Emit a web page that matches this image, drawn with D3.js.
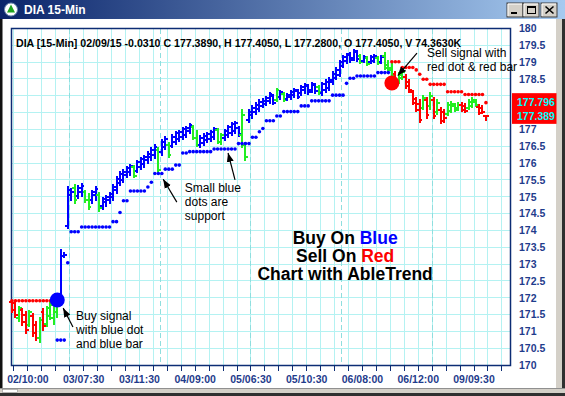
<!DOCTYPE html>
<html><head><meta charset="utf-8">
<script src="https://d3js.org/d3.v7.min.js"></script>
<style>html,body{margin:0;padding:0;background:#fff;overflow:hidden}svg{display:block}</style>
</head><body>
<svg id="c" width="565" height="396"></svg>
<script>
// ---------- DATA ----------
const symbolTitle = "DIA 15-Min";
const headerText = "DIA [15-Min] 02/09/15  -0.0310 C 177.3890, H 177.4050, L 177.2800, O 177.4050, V 74.3630K";
const sessions = [
  {day:"02", start:"09:00", bars:16},
  {day:"03", start:"06:30", bars:26},
  {day:"04", start:"06:30", bars:26},
  {day:"05", start:"06:30", bars:26},
  {day:"06", start:"06:30", bars:26},
  {day:"09", start:"06:30", bars:17}
];
const xTickLabels = ["02/10:00","03/07:30","03/11:30","04/09:00","05/06:30","05/10:30","06/08:00","06/12:00","09/09:30"];
const yTickValues = [170,170.5,171,171.5,172,172.5,173,173.5,174,174.5,175,175.5,176,176.5,177,177.5,178,178.5,179,179.5,180];

const highs = [
171.93,171.90,171.75,171.69,171.58,171.63,171.52,171.28,171.40,171.69,171.75,171.87,171.93,171.96,173.42,173.33,
175.29,175.26,175.35,175.32,175.38,175.20,175.11,175.20,175.29,175.14,174.99,175.05,175.14,175.35,175.59,175.74,175.80,175.91,175.97,175.94,176.09,176.18,176.24,176.33,176.45,176.54,
176.45,176.69,176.78,176.60,176.84,176.95,176.98,177.07,177.10,177.19,177.13,176.98,176.81,176.87,176.92,176.98,177.07,177.04,176.89,177.01,177.13,177.22,177.25,177.10,177.58,176.60,
177.58,177.70,177.79,177.88,177.91,177.99,178.11,178.05,178.23,178.17,178.11,178.08,178.17,178.23,178.20,178.32,178.38,178.35,178.41,178.38,178.32,178.41,178.47,178.53,178.71,178.83,
179.06,179.21,179.27,179.30,179.39,179.36,179.24,179.21,179.18,179.21,179.24,179.18,179.21,179.30,179.06,178.97,178.71,178.68,178.77,178.62,178.47,178.17,177.96,177.88,178.02,177.96,
178.11,177.96,177.88,177.64,177.58,177.79,177.82,177.76,177.79,177.79,177.76,177.88,177.94,177.88,177.73,177.70,177.405];
const lows = [
171.55,171.40,171.28,171.16,170.95,171.13,170.86,170.74,170.68,171.04,171.13,171.34,171.19,171.40,171.78,173.18,
174.07,174.90,174.81,174.96,175.02,174.84,174.61,174.81,174.90,174.55,174.61,174.70,174.81,174.90,175.11,175.32,175.41,175.56,175.62,175.56,175.71,175.80,175.88,176.00,176.09,176.15,
175.74,176.24,176.39,176.18,176.45,176.54,176.63,176.69,176.75,176.87,176.69,176.48,176.45,176.51,176.60,176.63,176.69,176.57,176.54,176.66,176.75,176.81,176.87,176.78,176.45,176.09,
177.22,177.34,177.43,177.52,177.64,177.70,177.76,177.73,177.82,177.88,177.82,177.85,177.88,177.94,177.91,178.02,178.08,178.05,178.11,178.08,178.05,178.02,178.11,178.17,178.35,178.47,
178.56,178.83,178.97,179.00,179.06,179.03,178.95,178.98,178.89,178.95,178.98,178.92,178.95,178.77,178.68,178.56,178.32,178.38,178.47,178.23,178.11,177.73,177.52,177.22,177.58,177.34,
177.58,177.34,177.43,177.19,177.22,177.40,177.49,177.52,177.55,177.52,177.49,177.58,177.64,177.67,177.43,177.46,177.28];
const opens = [
171.87,171.84,171.40,171.63,171.49,171.19,171.46,171.19,170.80,171.58,171.22,171.46,171.40,171.58,171.84,173.24,
174.13,175.05,175.26,175.02,175.14,175.14,174.90,174.90,175.05,175.05,174.72,174.84,174.90,174.99,175.20,175.41,175.50,175.65,175.74,175.88,175.77,175.88,175.97,176.09,176.18,176.24,
176.39,176.33,176.48,176.54,176.51,176.63,176.72,176.78,176.84,176.95,177.07,176.75,176.54,176.60,176.69,176.72,176.78,176.98,176.63,176.75,176.84,176.89,176.95,177.04,176.84,176.54,
177.28,177.43,177.52,177.61,177.70,177.76,177.85,177.99,177.88,177.96,178.05,177.91,177.96,178.02,178.14,178.08,178.17,178.29,178.17,178.32,178.26,178.08,178.17,178.23,178.41,178.53,
178.62,178.89,179.03,179.24,179.12,179.30,179.18,179.03,179.12,179.00,179.03,179.12,179.00,179.18,178.92,178.83,178.65,178.44,178.53,178.56,178.41,178.11,177.91,177.76,177.64,177.88,
177.70,177.88,177.52,177.58,177.52,177.46,177.55,177.70,177.64,177.73,177.70,177.64,177.70,177.82,177.67,177.64,177.405];
const closes = [
171.63,171.49,171.69,171.28,171.04,171.58,170.95,170.80,171.34,171.16,171.69,171.78,171.84,171.90,173.24,173.26,
175.20,175.14,174.90,175.26,175.32,174.90,174.70,175.14,175.23,174.66,174.93,174.99,175.08,175.29,175.53,175.68,175.74,175.85,175.91,175.62,176.03,176.12,176.18,176.27,176.39,176.48,
175.80,176.63,176.72,176.24,176.78,176.89,176.92,177.01,177.04,177.13,176.75,176.54,176.75,176.81,176.87,176.92,177.01,176.63,176.84,176.95,177.07,177.16,177.19,176.87,177.43,176.18,
177.52,177.64,177.73,177.82,177.85,177.94,178.05,177.79,178.17,178.11,177.88,178.02,178.11,178.17,177.96,178.26,178.32,178.11,178.35,178.14,178.11,178.35,178.41,178.47,178.65,178.77,
179.00,179.15,179.21,179.06,179.33,179.09,179.00,179.15,178.95,179.15,179.18,178.98,179.15,178.83,178.77,178.62,178.38,178.62,178.71,178.29,178.17,177.79,177.58,177.28,177.94,177.43,
177.99,177.40,177.79,177.25,177.34,177.73,177.76,177.58,177.73,177.58,177.55,177.82,177.88,177.73,177.49,177.52,177.389];
// trend colour of each bar: r = red (down), g = green (neutral), b = blue (up)
const trend = ("rrgrrgrrgrggggbb" +
  "bbgbbggbbgbbbbbbbbbgbbbbbb" +
  "gbbgbbbbbbggbbbbbggbbbbbgg" +
  "bbbbbbbbgbgbbbbbbbbbgbbbbb" +
  "bbbbbbgbgbbgbggg" + "rggrrrrrgr" +
  "grgrrggggrrgggrrr").split("");
const N = null;
const support = [
N,N,N,N,N,N,N,N,N,N,N,N,N,170.74,170.74,170.74,
173.04,173.96,173.96,173.96,174.10,174.10,174.10,174.10,174.10,174.10,174.10,174.10,174.10,174.26,174.26,174.53,174.88,174.88,175.17,175.17,175.17,175.17,175.17,175.29,175.43,175.69,
175.69,175.69,175.82,175.82,175.82,175.94,175.94,176.30,176.30,176.34,176.34,176.34,176.34,176.34,176.34,176.34,176.42,176.42,176.42,176.42,176.42,176.42,176.42,176.58,176.58,176.58,
176.58,176.77,176.77,176.93,177.03,177.26,177.26,177.26,177.40,177.40,177.53,177.53,177.53,177.53,177.53,177.70,177.70,177.70,177.85,177.85,177.85,177.85,177.85,177.85,178.02,178.02,
178.02,178.02,178.37,178.52,178.52,178.59,178.59,178.59,178.59,178.59,178.59,178.69,178.69,178.69,178.69,N,N,N,N,N,N,N,N,N,N,N,
N,N,N,N,N,N,N,N,N,N,N,N,N,N,N,N,N];
const resistance = [
171.91,171.91,171.91,171.91,171.91,171.91,171.91,171.91,171.91,171.91,171.91,171.91,171.91,N,N,N,
N,N,N,N,N,N,N,N,N,N,N,N,N,N,N,N,N,N,N,N,N,N,N,N,N,N,
N,N,N,N,N,N,N,N,N,N,N,N,N,N,N,N,N,N,N,N,N,N,N,N,N,N,
N,N,N,N,N,N,N,N,N,N,N,N,N,N,N,N,N,N,N,N,N,N,N,N,N,N,
N,N,N,N,N,N,N,N,N,N,N,N,N,N,N,179.01,179.01,179.01,178.84,178.84,178.84,178.84,178.77,178.64,178.49,178.49,
178.34,178.34,178.34,178.34,178.34,178.12,178.12,178.12,178.12,178.12,178.04,178.04,178.04,178.04,178.04,178.04,177.796];
const signals = [
  {type:"buy", index:13, value:171.93},
  {type:"sell", index:109, value:178.38}
];
const lastLabels = [177.796, 177.389];

// annotation anchors in data space (bar index, price)
const notes = [
  {lines:["Buy signal","with blue dot","and blue bar"], i:18.4, v:171.35, from:[17.5,171.13], to:[14.7,171.69]},
  {lines:["Small blue","dots are","support"], i:49.6, v:175.13, from:[47.3,174.84], to:[43.4,175.52], from2:[64.0,175.50], to2:[62.0,176.30]},
  {lines:["Sell signal with","red dot & red bar"], i:119.1, v:179.15, from:[116.2,179.27], to:[110.7,178.60]}
];
const bigText = [
  [{t:"Buy On ",c:"#000"},{t:"Blue",c:"#0000ff"}],
  [{t:"Sell On ",c:"#000"},{t:"Red",c:"#ff0000"}],
  [{t:"Chart with AbleTrend",c:"#000"}]
];
const bigTextAnchor = {i:95.6, v:173.61};

// ---------- BUILD ----------
function toMin(s){const [h,m]=s.split(":").map(Number);return h*60+m;}
function fmt(m){const h=Math.floor(m/60),mm=m%60;return String(h).padStart(2,"0")+":"+String(mm).padStart(2,"0");}
const barTimes = [];
sessions.forEach(s=>{for(let k=0;k<s.bars;k++) barTimes.push(s.day+"/"+fmt(toMin(s.start)+15*k));});
const dayStarts = []; {let acc=0; sessions.forEach((s,j)=>{ if(j>0) dayStarts.push(acc); acc+=s.bars; });}

const bars = barTimes.map((t,i)=>({i,t,h:highs[i],l:lows[i],o:opens[i],c:closes[i],k:trend[i]}));

const svg = d3.select("#c");
const FONT = "'Liberation Sans', Arial, sans-serif";
const NAVY = "#0c2c74";
const LBL = "#1f3c8c";
const COL = {r:"#ff0000", g:"#22ee22", b:"#0000ff"};

const x = d3.scaleLinear().domain([0,140]).range([13.96,501.9]);
const y = d3.scaleLinear().domain([170,180]).range([365,28.5]);
const bx = i => x(i) - 2;
const PL=11.5, PR=510.5, PT=28.5, PB=365.5;

// window background
svg.append("rect").attr("width",565).attr("height",396).attr("fill","#fff");

// title bar
const defs = svg.append("defs");
const g1 = defs.append("linearGradient").attr("id","tb").attr("x1","0").attr("x2","1");
g1.append("stop").attr("offset","0").attr("stop-color","#0a246a");
g1.append("stop").attr("offset","1").attr("stop-color","#a6caf0");
svg.append("rect").attr("x",0).attr("y",0).attr("width",565).attr("height",19).attr("fill","url(#tb)");
svg.append("circle").attr("cx",11).attr("cy",9.5).attr("r",6.5).attr("fill","#fff").attr("stroke","#6a86b0");
svg.append("path").attr("d","M11,4.5 L15,12.5 L7,12.5 Z").attr("fill","#1fa31f");
svg.append("text").attr("x",24).attr("y",14).attr("fill","#fff").attr("font-family",FONT)
  .attr("font-weight","bold").attr("font-size",12).text(symbolTitle);
const btnX=[507,523,541];
btnX.forEach((bxp,k)=>{
  svg.append("rect").attr("x",bxp).attr("y",3).attr("width",16).attr("height",14).attr("fill","#d4d0c8")
    .attr("stroke","#404040").attr("stroke-width",1);
  svg.append("path").attr("d",`M${bxp+1},${16} L${bxp+1},${4} L${bxp+15},${4}`).attr("fill","none").attr("stroke","#fff");
});
svg.append("rect").attr("x",511).attr("y",12).attr("width",6).attr("height",2).attr("fill","#000");
svg.append("rect").attr("x",527.5).attr("y",6.5).attr("width",8).attr("height",7).attr("fill","none").attr("stroke","#000").attr("stroke-width",1);
svg.append("line").attr("x1",527.5).attr("x2",535.5).attr("y1",7.5).attr("y2",7.5).attr("stroke","#000");
svg.append("path").attr("d","M545.5,6.5 L553.5,13.5 M553.5,6.5 L545.5,13.5").attr("stroke","#000").attr("stroke-width",1.6);

// left / right / bottom frame
svg.append("rect").attr("x",0).attr("y",19).attr("width",2.5).attr("height",377).attr("fill","#111");
svg.append("rect").attr("x",556).attr("y",19).attr("width",9).attr("height",377).attr("fill","#d4d0c8");
svg.append("rect").attr("x",562).attr("y",19).attr("width",3).attr("height",377).attr("fill","#303030");
svg.append("rect").attr("x",0).attr("y",388).attr("width",565).attr("height",8).attr("fill","#d4d0c8");
svg.append("line").attr("x1",0).attr("x2",565).attr("y1",388.5).attr("y2",388.5).attr("stroke","#909090");
svg.append("rect").attr("x",0).attr("y",393).attr("width",565).attr("height",3).attr("fill","#303030");
svg.append("rect").attr("x",2.5).attr("y",389.5).attr("width",15).attr("height",3).attr("fill","#fff").attr("stroke","#808080").attr("stroke-width",0.5);

// grid
const grid = svg.append("g").attr("shape-rendering","crispEdges");
grid.selectAll("line.v").data(d3.range(0,141,4)).join("line")
  .attr("x1",d=>x(d)).attr("x2",d=>x(d)).attr("y1",PT).attr("y2",PB)
  .attr("stroke","#b4f2f2").attr("stroke-width",1);
grid.selectAll("line.h").data(yTickValues.filter(v=>v>170&&v<180)).join("line").attr("class","h")
  .attr("x1",PL).attr("x2",PR).attr("y1",d=>y(d)).attr("y2",d=>y(d))
  .attr("stroke","#b4f2f2").attr("stroke-width",1);
svg.append("g").selectAll("line").data(dayStarts).join("line")
  .attr("x1",d=>x(d)).attr("x2",d=>x(d)).attr("y1",PT).attr("y2",PB)
  .attr("stroke","#8fdede").attr("stroke-width",1).attr("stroke-dasharray","5,3").attr("shape-rendering","crispEdges");

// plot border
svg.append("rect").attr("x",PL).attr("y",PT).attr("width",PR-PL).attr("height",PB-PT)
  .attr("fill","none").attr("stroke",NAVY).attr("stroke-width",1.5);

// header
svg.append("text").attr("x",16).attr("y",47).attr("font-family",FONT).attr("font-weight","bold")
  .attr("font-size",10.6).attr("fill","#000").text(headerText);

// bars
const bg = svg.append("g").attr("shape-rendering","crispEdges");
bars.forEach(d=>{
  const cx = bx(d.i), col = COL[d.k];
  bg.append("line").attr("x1",cx).attr("x2",cx).attr("y1",y(d.h)-0.5).attr("y2",y(d.l)+0.5).attr("stroke",col).attr("stroke-width",2);
  bg.append("line").attr("x1",cx-2.6).attr("x2",cx).attr("y1",y(d.o)).attr("y2",y(d.o)).attr("stroke",col).attr("stroke-width",1.8);
  bg.append("line").attr("x1",cx).attr("x2",cx+2.6).attr("y1",y(d.c)).attr("y2",y(d.c)).attr("stroke",col).attr("stroke-width",1.8);
});

// support / resistance dots
svg.append("g").selectAll("circle").data(support.map((v,i)=>({i,v})).filter(d=>d.v!=null)).join("circle")
  .attr("cx",d=>bx(d.i)).attr("cy",d=>y(d.v)).attr("r",1.8).attr("fill","#0000ff");
svg.append("g").selectAll("circle").data(resistance.map((v,i)=>({i,v})).filter(d=>d.v!=null)).join("circle")
  .attr("cx",d=>bx(d.i)).attr("cy",d=>y(d.v)).attr("r",1.8).attr("fill","#ff0000");

// signal dots
svg.append("g").selectAll("circle").data(signals).join("circle")
  .attr("cx",d=>bx(d.index)).attr("cy",d=>y(d.value)).attr("r",7.5)
  .attr("fill",d=>d.type==="buy"?"#0000ff":"#ff0000");

// annotations
defs.append("marker").attr("id","ah").attr("viewBox","0 -4 9 8").attr("refX",9).attr("refY",0)
  .attr("markerWidth",9).attr("markerHeight",8).attr("markerUnits","userSpaceOnUse").attr("orient","auto")
  .append("path").attr("d","M0,-3.5L9,0L0,3.5Z").attr("fill","#000");
const ptX = i => bx(i);
notes.forEach(n=>{
  const t = svg.append("text").attr("font-family",FONT).attr("font-size",12).attr("fill","#000");
  n.lines.forEach((ln,k)=>t.append("tspan").attr("x",ptX(n.i)).attr("y",y(n.v)+k*14).text(ln));
  [[n.from,n.to],[n.from2,n.to2]].forEach(([a,b])=>{
    if(!a) return;
    svg.append("line").attr("x1",ptX(a[0])).attr("y1",y(a[1])).attr("x2",ptX(b[0])).attr("y2",y(b[1]))
      .attr("stroke","#000").attr("stroke-width",1.2).attr("marker-end","url(#ah)");
  });
});
bigText.forEach((parts,k)=>{
  const t = svg.append("text").attr("x",ptX(bigTextAnchor.i)).attr("y",y(bigTextAnchor.v)+k*18)
    .attr("text-anchor","middle").attr("font-family",FONT).attr("font-weight","bold").attr("font-size",17.5);
  parts.forEach(p=>t.append("tspan").attr("fill",p.c).text(p.t));
});

// last-value box extent
const boxTop = y(lastLabels[0]) - 9.5, boxBot = y(lastLabels[1]) + 7.5;

// y axis labels (those hidden behind the last-value box are not drawn)
svg.append("g").selectAll("text").data(yTickValues.filter(v=>y(v)+4 < boxTop || y(v)-4 > boxBot)).join("text")
  .attr("x",519).attr("y",d=>y(d)+3.8).attr("font-family",FONT).attr("font-weight","bold")
  .attr("font-size",10.5).attr("fill",LBL).text(d=>String(d));

// last-value boxes
const clipId="lbclip";
defs.append("clipPath").attr("id",clipId).append("rect").attr("x",512).attr("y",0).attr("width",43.5).attr("height",396);
svg.append("rect").attr("x",512).attr("y",boxTop).attr("width",44.5)
  .attr("height",boxBot-boxTop).attr("fill","#ff0000");
svg.append("g").attr("clip-path",`url(#${clipId})`).selectAll("text").data(lastLabels).join("text")
  .attr("x",517).attr("y",d=>y(d)+3.8).attr("font-family",FONT).attr("font-weight","bold")
  .attr("font-size",10.5).attr("fill","#00ffff").text(d=>d.toFixed(3));

// x axis ticks and labels
svg.append("g").selectAll("line").data(d3.range(0,141,4)).join("line")
  .attr("x1",d=>x(d)).attr("x2",d=>x(d)).attr("y1",PB).attr("y2",PB+5)
  .attr("stroke",NAVY).attr("stroke-width",1).attr("shape-rendering","crispEdges");
svg.append("g").selectAll("text").data(xTickLabels).join("text")
  .attr("x",d=>x(barTimes.indexOf(d))).attr("y",383).attr("text-anchor","middle")
  .attr("font-family",FONT).attr("font-weight","bold").attr("font-size",10.5).attr("fill",LBL).text(d=>d);
</script>
</body></html>
